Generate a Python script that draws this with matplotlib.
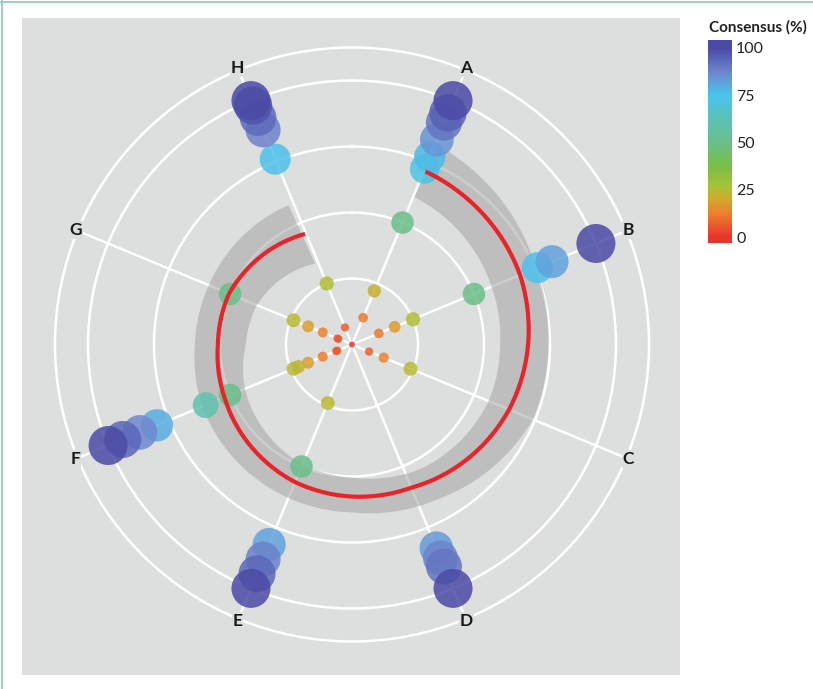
import numpy as np
import matplotlib
matplotlib.use("Agg")
import matplotlib.pyplot as plt
from matplotlib.colors import LinearSegmentedColormap, Normalize
from matplotlib.path import Path
from matplotlib.patches import PathPatch, Rectangle
from matplotlib.lines import Line2D

plt.rcParams['font.family'] = ['Lato', 'DejaVu Sans']

# spokes (angle clockwise from north, degrees)
spoke_names = ["A", "B", "C", "D", "E", "F", "G", "H"]
spoke_angles = [22.5, 67.5, 112.5, 157.5, 202.5, 247.5, 292.5, 337.5]

# consensus (%) of each point along a spoke: radius and colour both show it
cons_A = [0, 11, 22, 50, 72, 77, 84, 91, 95, 100]
cons_B = [11, 17.5, 25, 50, 76, 82, 100]
cons_C = [7, 13, 24]
cons_D = [83.5, 87.5, 91, 100]
cons_E = [24, 50, 82, 88, 94, 100]
cons_F = [6, 6.5, 12, 18, 22, 24, 50, 60, 80, 87, 94, 100]
cons_G = [5.5, 6, 12, 18, 24, 50]
cons_H = [7, 25, 76, 88, 93, 98, 100]

rings = [25, 50, 75, 100]
r_outer = 112.5

# red spiral (mean) and grey band (range)
trend_theta = [337, 292.5, 270, 247.5, 202.5, 180, 157.5, 112.5, 90, 67.5, 23]
trend_value = [45.5, 50.4, 50.8, 52.3, 56.4, 57.6, 58.7, 64.4, 66.7, 68.9, 71.2]

band_theta = [335.5, 292.5, 270, 247.5, 202.5, 180, 151, 112.5, 90, 67.5, 23]
band_low = [33.7, 39.0, 40.2, 43.9, 49.2, 50.4, 53.8, 56.0, 56.1, 57.2, 60.6]
band_high = [58.0, 58.7, 59.5, 61.4, 62.9, 63.6, 67.0, 74.2, 74.4, 75.4, 82.2]

cbar_ticks = [0, 25, 50, 75, 100]

BG = "#dddede"
cmap = LinearSegmentedColormap.from_list("consensus", [
    (0.00, "#e8342c"), (0.12, "#ef7f2c"), (0.20, "#d4a82e"), (0.26, "#a9c235"),
    (0.38, "#78bf48"), (0.50, "#6abf88"), (0.62, "#5cc3b5"), (0.75, "#48c6ee"),
    (0.87, "#6f88cf"), (1.00, "#4b4aa6")])
norm = Normalize(0, 100)

fig = plt.figure(figsize=(8.13, 6.89), dpi=100)
fig.patches.append(Rectangle((22 / 813, 14 / 689), 658 / 813, 657 / 689,
                             transform=fig.transFigure, facecolor=BG,
                             edgecolor="none", zorder=-10))
fig.add_artist(Line2D([0, 1], [1 - 2 / 689] * 2, transform=fig.transFigure,
                      color="#8ecab5", lw=1.2))
fig.add_artist(Line2D([2 / 813] * 2, [0, 1], transform=fig.transFigure,
                      color="#8ecab5", lw=1.2))

ax = fig.add_axes([55 / 813, 47.5 / 689, 594 / 813, 594 / 689], projection="polar")
ax.set_theta_zero_location("N")
ax.set_theta_direction(-1)
ax.set_facecolor("none")

# grey band, drawn as a polar path so edges follow spirals
th_b = np.deg2rad(band_theta)
verts = np.concatenate([np.column_stack([th_b, band_high]),
                        np.column_stack([th_b[::-1], band_low[::-1]]),
                        [[th_b[0], band_high[0]]]])
codes = [Path.MOVETO] + [Path.LINETO] * (len(verts) - 2) + [Path.CLOSEPOLY]
band = PathPatch(Path(verts, codes, _interpolation_steps=40),
                 facecolor="#a6a6a8", alpha=0.56, edgecolor="none", zorder=2)
ax.add_patch(band)

# points
all_cons = [cons_A, cons_B, cons_C, cons_D, cons_E, cons_F, cons_G, cons_H]
for ang, vals in zip(spoke_angles, all_cons):
    vals = np.sort(np.array(vals, dtype=float))
    diam = (6 + 0.33 * vals) * 0.72
    ax.scatter(np.full(len(vals), np.deg2rad(ang)), vals, s=diam ** 2, c=vals,
               cmap=cmap, norm=norm, alpha=0.85, edgecolors="none", zorder=3)

# red spiral
trend = Path(np.column_stack([np.deg2rad(trend_theta), trend_value]),
             _interpolation_steps=40)
ax.add_patch(PathPatch(trend, fill=False, edgecolor="#e8242a", lw=3, zorder=4,
                       capstyle="butt"))

ax.set_ylim(0, r_outer)
ax.set_yticks(rings)
ax.set_yticklabels([])
ax.set_xticks(np.deg2rad(spoke_angles))
ax.set_xticklabels([])
ax.tick_params(size=0)
ax.grid(True, color="white", linewidth=1.8)
ax.spines["polar"].set_color("white")
ax.spines["polar"].set_linewidth(1.8)

for name, ang in zip(spoke_names, spoke_angles):
    ax.text(np.deg2rad(ang), r_outer + 0.8, name, ha="center", va="center",
            fontsize=12.5, fontweight="bold", color="#1a1a1a", zorder=6,
            clip_on=False,
            bbox=dict(boxstyle="square,pad=0.05", fc=BG, ec="none"))

# colour bar
cax = fig.add_axes([708 / 813, (689 - 243) / 689, 24 / 813, 203 / 689])
grad = np.linspace(-3, 104, 256).reshape(-1, 1)
cax.imshow(grad, extent=[0, 1, -3, 104], origin="lower", aspect="auto",
           cmap=cmap, norm=norm)
cax.set_xticks([])
cax.yaxis.tick_right()
cax.set_yticks(cbar_ticks)
cax.tick_params(length=0, pad=3, labelsize=11.5, labelcolor="#222222")
for sp in cax.spines.values():
    sp.set_visible(False)
fig.text(758 / 813, 1 - 27 / 689, "Consensus (%)", ha="center", va="center",
         fontsize=11, fontweight="bold", color="#222222")

fig.savefig("out.png", dpi=100)
